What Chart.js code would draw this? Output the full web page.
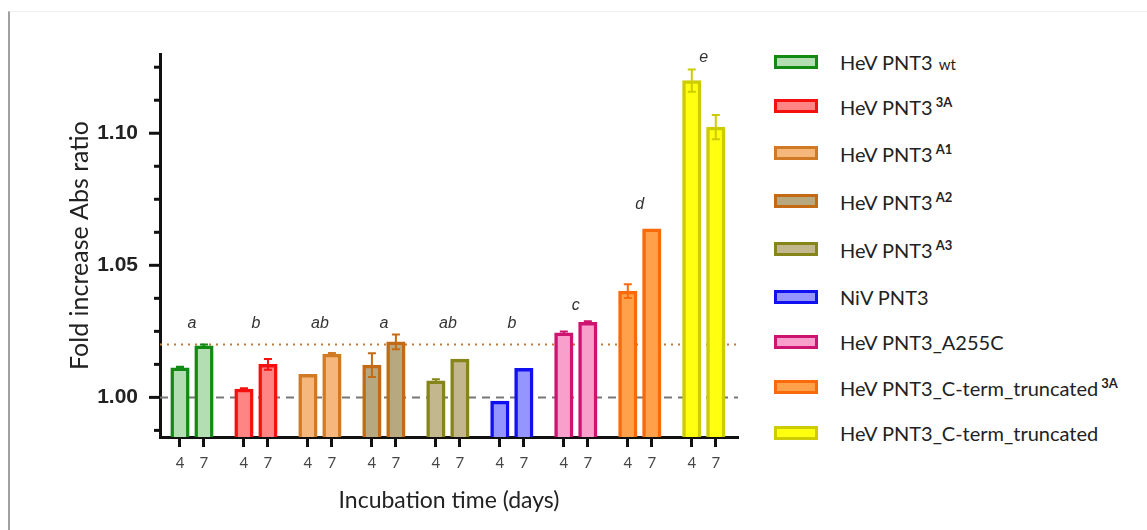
<!DOCTYPE html>
<html>
<head>
<meta charset="utf-8">
<script src="https://cdn.jsdelivr.net/npm/chart.js@4/dist/chart.umd.min.js"></script>
<style>
  body { margin: 0; background: #fff; width: 1147px; height: 530px; overflow: hidden; position: relative; }
  .frame { position: absolute; left: 8px; top: 11px; width: 1139px; height: 519px; border-left: 2px solid #a0a0a0; border-top: 1px solid #eeeeee; }
  .chart-box { position: absolute; left: 0; top: 0; width: 760px; height: 530px; }
  .legend { position: absolute; left: 0; top: 0; font-family: Lato, sans-serif; font-size: 20px; color: #222; }
  .legend-row { position: absolute; left: 774px; height: 30px; display: flex; align-items: center; white-space: nowrap; }
  .legend-row .swatch { width: 38px; height: 8px; border: 3px solid; margin-right: 22px; }
  .legend-row sup { font-weight: bold; font-size: 13px; margin-left: 3px; }
  .legend-row .small { font-size: 15px; margin-left: 6px; }
</style>
</head>
<body>
<div class="frame"></div>
<div class="chart-box"><canvas id="barChart"></canvas></div>
<div class="legend" id="legend"></div>
<script>
// Gruplar (legend sırası)
const groupNames = ['HeV PNT3', 'HeV PNT3', 'HeV PNT3', 'HeV PNT3', 'HeV PNT3', 'NiV PNT3', 'HeV PNT3_A255C', 'HeV PNT3_C-term_truncated', 'HeV PNT3_C-term_truncated'];
const groupSup = ['', '3A', 'A1', 'A2', 'A3', '', '', '3A', ''];
const groupSuffix = ['wt', '', '', '', '', '', '', '', ''];
const dayLabels = ['4', '7'];

// Fold increase değerleri
const day4Values = [1.0112, 1.0031, 1.0087, 1.0122, 1.0063, 0.9986, 1.0244, 1.0402, 1.1199];
const day7Values = [1.0195, 1.0125, 1.0164, 1.0210, 1.0145, 1.0110, 1.0284, 1.0638, 1.1023];
const day4Errors = [0.0004, 0.0004, 0, 0.0045, 0.0006, 0, 0.0005, 0.0026, 0.0042];
const day7Errors = [0.0005, 0.0020, 0.0004, 0.0028, 0, 0, 0.0004, 0, 0.0046];

// Anlamlılık harfleri
const sigLetters = ['a', 'b', 'ab', 'a', 'ab', 'b', 'c', 'd', 'e'];
const sigLevels = [1.028, 1.028, 1.028, 1.028, 1.028, 1.028, 1.0348, 1.0729, 1.1287];

// Y ekseni
const yTickLabels = ['1.00', '1.05', '1.10'];
const yMinorStep = 0.0125;
const refLines = [1.00, 1.02];

const borderColors = ['#138a13', '#f51010', '#d07a26', '#c46a14', '#85851a', '#1010f0', '#cc1470', '#fa6a0a', '#cccc00'];
const fillColors = ['#b3deb3', '#ff8585', '#f5b77c', '#b8a880', '#c3b78e', '#9595ff', '#f99fcc', '#ffa04a', '#ffff10'];

const groupGap = 8 / 3;
function barX(g, d) { return g * groupGap + d; }

const datasets = groupNames.map(function(name, i) {
    return {
        label: name + (groupSup[i] ? ' ' + groupSup[i] : '') + (groupSuffix[i] ? ' ' + groupSuffix[i] : ''),
        data: [{ x: barX(i, 0), y: day4Values[i] }, { x: barX(i, 1), y: day7Values[i] }],
        errors: [day4Errors[i], day7Errors[i]],
        backgroundColor: fillColors[i],
        borderColor: borderColors[i],
        borderWidth: 3.5,
        borderSkipped: 'bottom',
        grouped: false,
        barThickness: 18.5
    };
});

const tickPositions = [];
groupNames.forEach(function(n, i) { tickPositions.push(barX(i, 0), barX(i, 1)); });

// Referans çizgileri (barların arkasında)
const refLinePlugin = {
    id: 'refLines',
    beforeDatasetsDraw: function(chart) {
        const ctx = chart.ctx, area = chart.chartArea, y = chart.scales.y;
        ctx.save();
        ctx.lineWidth = 2;
        ctx.strokeStyle = '#777';
        ctx.setLineDash([8, 6]);
        ctx.beginPath();
        ctx.moveTo(area.left, y.getPixelForValue(refLines[0]));
        ctx.lineTo(area.right, y.getPixelForValue(refLines[0]));
        ctx.stroke();
        ctx.strokeStyle = '#c07a3a';
        ctx.setLineDash([2, 5]);
        ctx.beginPath();
        ctx.moveTo(area.left, y.getPixelForValue(refLines[1]));
        ctx.lineTo(area.right, y.getPixelForValue(refLines[1]));
        ctx.stroke();
        ctx.restore();
    }
};

// Hata çubukları, harfler, y ekseni tikleri
const extrasPlugin = {
    id: 'extras',
    afterDatasetsDraw: function(chart) {
        const ctx = chart.ctx, xs = chart.scales.x, ys = chart.scales.y;
        ctx.save();
        chart.data.datasets.forEach(function(ds) {
            ds.data.forEach(function(p, j) {
                const e = ds.errors[j];
                if (!e) return;
                const px = xs.getPixelForValue(p.x);
                const t = ys.getPixelForValue(p.y + e), b = ys.getPixelForValue(p.y - e);
                ctx.strokeStyle = ds.borderColor;
                ctx.lineWidth = 2;
                ctx.beginPath();
                ctx.moveTo(px, t); ctx.lineTo(px, b);
                ctx.moveTo(px - 4, t); ctx.lineTo(px + 4, t);
                ctx.moveTo(px - 4, b); ctx.lineTo(px + 4, b);
                ctx.stroke();
            });
        });
        ctx.fillStyle = '#333';
        ctx.font = 'italic 16px "Liberation Sans", Arial, sans-serif';
        ctx.textAlign = 'center';
        ctx.textBaseline = 'middle';
        sigLetters.forEach(function(l, i) {
            const cx = (xs.getPixelForValue(barX(i, 0)) + xs.getPixelForValue(barX(i, 1))) / 2;
            ctx.fillText(l, cx, ys.getPixelForValue(sigLevels[i]));
        });
        ctx.restore();
    },
    afterDraw: function(chart) {
        const ctx = chart.ctx, ys = chart.scales.y, left = chart.chartArea.left;
        ctx.save();
        ctx.strokeStyle = '#111';
        ctx.lineWidth = 3;
        ys.ticks.forEach(function(t) {
            const major = yTickLabels.indexOf(t.value.toFixed(2)) >= 0 && Math.abs(t.value - parseFloat(t.value.toFixed(2))) < 1e-6;
            const py = ys.getPixelForValue(t.value);
            ctx.beginPath();
            ctx.moveTo(left - (major ? 11 : 6), py);
            ctx.lineTo(left, py);
            ctx.stroke();
        });
        ctx.restore();
    }
};

document.addEventListener('DOMContentLoaded', function() {
    const ctx = document.getElementById('barChart').getContext('2d');
    new Chart(ctx, {
        type: 'bar',
        data: { datasets: datasets },
        options: {
            responsive: true,
            maintainAspectRatio: false,
            animation: false,
            layout: { padding: { left: 0, top: 54, right: 22, bottom: 0 } },
            scales: {
                x: {
                    type: 'linear',
                    offset: false,
                    min: -0.833,
                    max: 23.26,
                    afterBuildTicks: function(scale) {
                        scale.ticks = tickPositions.map(function(v) { return { value: v }; });
                    },
                    afterFit: function(scale) { scale.height = 93; },
                    grid: { offset: false, drawOnChartArea: false, tickLength: 10, tickWidth: 3, tickColor: '#111' },
                    border: { color: '#111', width: 3 },
                    ticks: {
                        autoSkip: false,
                        maxRotation: 0,
                        padding: 7,
                        color: '#444',
                        font: { family: 'Lato, sans-serif', size: 15 },
                        callback: function(v, i) { return dayLabels[i % 2]; }
                    },
                    title: {
                        display: true,
                        text: 'Incubation time (days)',
                        color: '#222',
                        font: { family: 'Lato, sans-serif', size: 23 },
                        padding: { top: 0, bottom: 16 }
                    }
                },
                y: {
                    min: 0.985,
                    max: 1.13,
                    afterBuildTicks: function(scale) {
                        const list = [];
                        for (let k = 0; k < 12; k++) list.push({ value: 0.9875 + k * yMinorStep });
                        scale.ticks = list;
                    },
                    afterFit: function(scale) { scale.width = 160; },
                    grid: { display: false },
                    border: { color: '#111', width: 3 },
                    ticks: {
                        padding: 14,
                        color: '#222',
                        font: { family: '"Liberation Sans", Arial, sans-serif', size: 21, weight: 'bold' },
                        callback: function(v) {
                            const s = v.toFixed(2);
                            return (yTickLabels.indexOf(s) >= 0 && Math.abs(v - parseFloat(s)) < 1e-6) ? s : '';
                        }
                    },
                    title: {
                        display: true,
                        text: 'Fold increase Abs ratio',
                        color: '#222',
                        font: { family: 'Lato, sans-serif', size: 25 },
                        padding: { top: 65, bottom: 0 }
                    }
                }
            },
            plugins: {
                legend: { display: false },
                tooltip: { enabled: false }
            }
        },
        plugins: [refLinePlugin, extrasPlugin]
    });

    // HTML legend (üst simgeler için)
    const legend = document.getElementById('legend');
    const rowCenters = [62, 106, 153, 201, 249, 297, 342, 387, 433];
    groupNames.forEach(function(name, i) {
        const row = document.createElement('div');
        row.className = 'legend-row';
        row.style.top = (rowCenters[i] - 15) + 'px';
        const sw = document.createElement('div');
        sw.className = 'swatch';
        sw.style.borderColor = borderColors[i];
        sw.style.background = fillColors[i];
        row.appendChild(sw);
        const txt = document.createElement('span');
        txt.textContent = name;
        if (groupSup[i]) {
            const sup = document.createElement('sup');
            sup.textContent = groupSup[i];
            txt.appendChild(sup);
        }
        if (groupSuffix[i]) {
            const sm = document.createElement('span');
            sm.className = 'small';
            sm.textContent = groupSuffix[i];
            txt.appendChild(sm);
        }
        row.appendChild(txt);
        legend.appendChild(row);
    });
});
</script>
</body>
</html>
